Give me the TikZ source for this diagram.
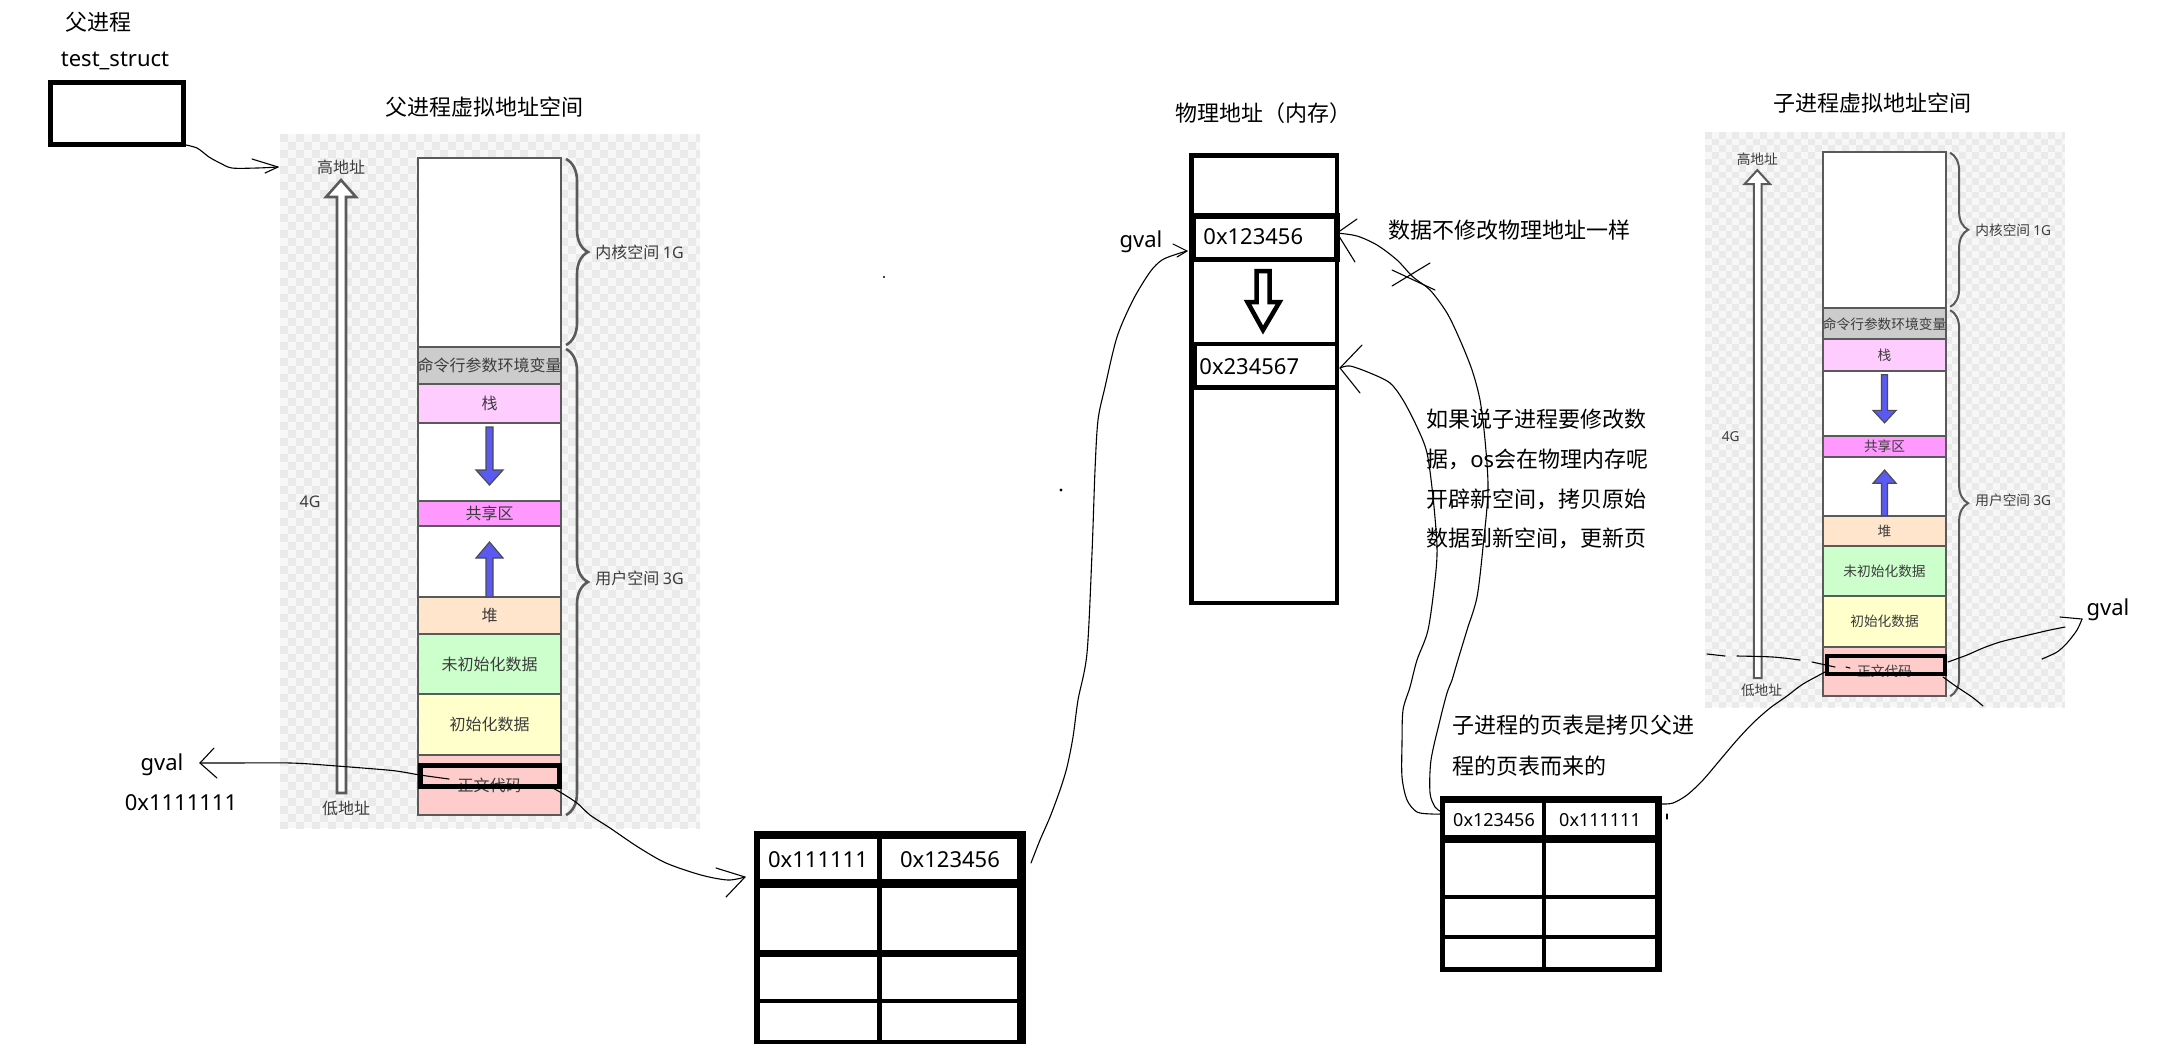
\documentclass[tikz,border=0pt]{standalone}
\usepackage{fontspec}
\setmainfont{Noto Sans CJK SC}
\newfontfamily\lat{Noto Sans}
\usetikzlibrary{decorations.pathreplacing}
\definecolor{colline}{HTML}{5A5A5A}
\definecolor{coltext}{HTML}{3C3C3C}
\definecolor{bgA}{HTML}{F7F7F7}
\definecolor{bgB}{HTML}{EAEAEA}
\definecolor{cGray}{HTML}{CCCCCC}
\definecolor{cStack}{HTML}{FFCCFF}
\definecolor{cShare}{HTML}{FF99FF}
\definecolor{cHeap}{HTML}{FFE5CC}
\definecolor{cBss}{HTML}{CCFFCC}
\definecolor{cData}{HTML}{FFFFCC}
\definecolor{cText}{HTML}{FFCCCC}
\definecolor{cBlue}{HTML}{5A5AF2}
\tikzset{
  vtxt/.style={font=\fontsize{\vfs}{\vfs}\selectfont, text=coltext, inner sep=0pt},
  seg/.style={draw=colline, line width=\vlw},
  bluearrow/.style={draw=black!70, line width=0.6pt, fill=cBlue},
  hand/.style={line width=0.55pt, line cap=round, line join=round},
  big/.style={font=\fontsize{11pt}{13pt}\selectfont, inner sep=0pt},
  latb/.style={font=\lat\fontsize{11pt}{13pt}\selectfont, inner sep=0pt},
  lats/.style={font=\lat\fontsize{9pt}{11pt}\selectfont, inner sep=0pt},
}
\newcommand\VirtSpace[1]{%
  \fill[bgA] (0,0) rectangle (420,694);
  \begin{scope}
    \clip (0,0) rectangle (420,694);
    \foreach \i in {0,16,...,416}{%
      \foreach \j in {0,16,...,688}{%
        \fill[bgB] (\i,\j) rectangle +(8,8);
        \fill[bgB] (\i+8,\j+8) rectangle +(8,8);
      }%
    }%
  \end{scope}
  \node[vtxt] (#1hi) at (61,33) {高地址};
  \draw[seg, fill=white] (57,659) -- (57,63) -- (46,63) -- (61,46) -- (76,63) -- (66,63) -- (66,659) -- cycle;
  \node[vtxt] (#1fg) at (30,368) {\lat 4G};
  \node[vtxt] (#1lo) at (66,674) {低地址};
  \draw[seg, fill=white] (138,24) rectangle (281,213);
  \draw[seg, fill=cGray] (138,213) rectangle (281,250);
  \draw[seg, fill=cStack] (138,250) rectangle (281,289);
  \draw[seg, fill=white] (138,289) rectangle (281,367);
  \draw[seg, fill=cShare] (138,367) rectangle (281,392);
  \draw[seg, fill=white] (138,392) rectangle (281,463);
  \draw[seg, fill=cHeap] (138,463) rectangle (281,500);
  \draw[seg, fill=cBss] (138,500) rectangle (281,560);
  \draw[seg, fill=cData] (138,560) rectangle (281,621);
  \draw[seg, fill=cText] (138,621) rectangle (281,681);
  \node[vtxt] (#1env) at (209.5,231.5) {命令行参数环境变量};
  \node[vtxt] (#1stk) at (209.5,269.5) {栈};
  \node[vtxt] (#1shr) at (209.5,379.5) {共享区};
  \node[vtxt] (#1hp) at (209.5,481.5) {堆};
  \node[vtxt] (#1bss) at (209.5,530) {未初始化数据};
  \node[vtxt] (#1dat) at (209.5,590.5) {初始化数据};
  \node[vtxt] (#1txt) at (209.5,651) {正文代码};
  \draw[bluearrow] (206,293) -- (213,293) -- (213,336) -- (223,336) -- (209.5,351) -- (196,336) -- (206,336) -- cycle;
  \draw[bluearrow] (206,463) -- (206,424) -- (196,424) -- (209.5,408) -- (223,424) -- (213,424) -- (213,463) -- cycle;
  \draw[colline, line width=\vlw, decorate, decoration={brace, amplitude=\bamp}] (286,25) -- (286,211);
  \draw[colline, line width=\vlw, decorate, decoration={brace, amplitude=\bamp}] (286,215) -- (286,681);
  \node[vtxt, anchor=west] (#1kl) at (315,118) {内核空间 {\lat 1G}};
  \node[vtxt, anchor=west] (#1ul) at (315,444) {用户空间 {\lat 3G}};
}
\begin{document}
\begin{tikzpicture}[x=0.5pt,y=-0.5pt]
\useasboundingbox (0,0) rectangle (2166,1062);

% ---------- titles ----------
\node[big] (tParent) at (98,22) {父进程};
\node[latb, anchor=base] (tStruct) at (115,66.5) {test\_struct};
\node[draw, line width=2.5pt, minimum width=66.5pt, minimum height=31pt, inner sep=0pt, outer sep=0pt] (tsbox) at (117,113.5) {};
\node[big] (tPV) at (484,107) {父进程虚拟地址空间};
\node[big] (tPhys) at (1263,113) {物理地址（内存）};
\node[big] (tCV) at (1872,103) {子进程虚拟地址空间};

% ---------- parent virtual space ----------
\begin{scope}[shift={(280,134)}]
  \def\vfs{8pt}\def\vlw{1.3pt}\def\bamp{11pt}
  \VirtSpace{p}
\end{scope}
\node[draw, line width=2.5pt, minimum width=69.5pt, minimum height=10.5pt, inner sep=0pt, outer sep=0pt] (pbold) at (490,776) {};

% ---------- child virtual space ----------
\begin{scope}[shift={(1705,132)}, xscale=0.857, yscale=0.8285]
  \def\vfs{6.85pt}\def\vlw{1pt}\def\bamp{9pt}
  \VirtSpace{c}
\end{scope}
\node[draw, line width=2pt, minimum width=59pt, minimum height=9pt, inner sep=0pt, outer sep=0pt] (cbold) at (1886,665) {};

% ---------- left labels ----------
\node[latb, anchor=base] (gvalP) at (162,770) {gval};
\node[latb, anchor=base] (addrP) at (181,810) {0x1111111};

% ---------- physical memory ----------
\draw[line width=2.4pt] (1191.5,155.5) rectangle (1337,603);
\draw[line width=2.7pt] (1193,216) rectangle (1337,259.5);
\draw[line width=2.3pt] (1195,344) rectangle (1337,387.5);
\draw[line width=2.25pt, fill=white] (1256.5,271) -- (1269.5,271) -- (1269.5,302) -- (1279.5,302) -- (1263,330) -- (1247.5,302) -- (1256.5,302) -- cycle;
\node[latb, anchor=base west] (m1) at (1203,244) {0x123456};
\node[latb, anchor=base west] (m2) at (1199,374) {0x234567};
\node[latb, anchor=base] (gvalM) at (1141,247) {gval};
\node[big, anchor=west] (note1) at (1388,230) {数据不修改物理地址一样};
\node[big, anchor=west] (pa1) at (1426,419) {如果说子进程要修改数};
\node[big, anchor=west] (pa2) at (1426,459) {据，{\lat os}会在物理内存呢};
\node[big, anchor=west] (pa3) at (1426,499) {开辟新空间，拷贝原始};
\node[big, anchor=west] (pa4) at (1426,538) {数据到新空间，更新页};
\node[big, anchor=west] (cn1) at (1452,725) {子进程的页表是拷贝父进};
\node[big, anchor=west] (cn2) at (1452,766) {程的页表而来的};
\node[latb, anchor=base] (gvalC) at (2108,615) {gval};

% ---------- parent page table ----------
\fill (754,831) rectangle (1026,839);
\fill (754,879) rectangle (1026,888);
\fill (754,950) rectangle (1026,957);
\fill (754,999) rectangle (1026,1003);
\fill (754,1040) rectangle (1026,1044);
\fill (754,831) rectangle (760,1044);
\fill (1017,831) rectangle (1026,1044);
\fill (877,831) rectangle (882,1044);
\node[latb, anchor=base] (pt1) at (818,867) {0x111111};
\node[latb, anchor=base] (pt2) at (950,867) {0x123456};

% ---------- child page table ----------
\fill (1440,796) rectangle (1662,803);
\fill (1440,835) rectangle (1662,843);
\fill (1440,895) rectangle (1662,899);
\fill (1440,935) rectangle (1662,938.5);
\fill (1440,967) rectangle (1662,972);
\fill (1440,796) rectangle (1445,972);
\fill (1655,796) rectangle (1662,972);
\fill (1542,796) rectangle (1546,972);
\node[lats, anchor=base] (ct1) at (1494,826) {0x123456};
\node[lats, anchor=base] (ct2) at (1600,826) {0x111111};

% ---------- named ends ----------
\coordinate (hiTip) at (278,167);
\coordinate (bStart) at (449,779);
\coordinate (gvTip) at (200,763);
\coordinate (cStart) at (547,785);
\coordinate (ptTip) at (745,877);
\coordinate (dStart) at (1031,863);
\coordinate (gmTip) at (1187,251);
\coordinate (eStart) at (1440,811);
\coordinate (m1Tip) at (1337,233);
\coordinate (fStart) at (1440,814);
\coordinate (m2Tip) at (1340,368);
\coordinate (gStart) at (1662,804);
\coordinate (gEnd) at (1827,671);
\coordinate (hStart) at (1948,662);
\coordinate (hTip) at (2082,619);

% ---------- hand drawn connectors ----------
\draw[hand] plot[smooth] coordinates {(tsbox.south east) (197,148) (209,157) (220,163) (232,168) (257,168) (hiTip)};
\draw[hand] (252,159) -- (hiTip) -- (265,173);

\draw[hand] plot[smooth] coordinates {(bStart) (420,775) (403,772) (387,770) (337,766) (291,763) (230,763) (gvTip)};
\draw[hand] (214,748) -- (gvTip) -- (217,778);

\draw[hand] plot[smooth] coordinates {(cStart) (560,792) (577,803) (590,815) (610,828) (638,847) (666,863) (701,875) (728,880) (ptTip)};
\draw[hand] (716,868) -- (ptTip) -- (726,897);

\draw[hand] plot[smooth] coordinates {(dStart) (1040,840) (1050,817) (1060,790) (1067,767) (1073,737) (1078,700) (1087,653) (1092,553) (1095,470) (1098,420) (1105,387) (1117,337) (1133,300) (1150,272) (1162,260) (1177,254) (gmTip)};
\draw[hand] (1173,244) -- (gmTip) -- (1177,257);

\draw[hand] plot[smooth] coordinates {(eStart) (1435,807) (1430,793) (1431,760) (1440,720) (1447,693) (1452,680) (1457,663) (1467,630) (1477,597) (1483,547) (1488,490) (1485,440) (1480,400) (1472,370) (1460,340) (1447,313) (1430,290) (1413,277) (1397,260) (1377,245) (1357,236) (m1Tip)};
\draw[hand] (1357,219) -- (m1Tip) -- (1355,262);
\draw[hand] (1392,286) -- (1430,263);
\draw[hand] (1392,270) -- (1435,290);

\draw[hand] plot[smooth] coordinates {(fStart) (1432,814) (1417,812) (1407,800) (1402,777) (1402,743) (1403,710) (1410,687) (1417,660) (1428,630) (1435,580) (1437,547) (1433,497) (1427,453) (1417,427) (1403,400) (1390,383) (1370,373) (1350,366) (m2Tip)};
\draw[hand] (1362,345) -- (m2Tip) -- (1360,393);

\draw[hand] plot[smooth] coordinates {(gStart) (1673,803) (1687,795) (1703,780) (1720,760) (1737,740) (1753,723) (1770,708) (1787,696) (1803,684) (gEnd)};
\draw[hand] (1667,814) -- (1667,819);

\draw[hand] plot[smooth] coordinates {(hStart) (1967,655) (1983,648) (2000,642) (2020,637) (2037,633) (2050,630) (2065,627)};
\draw[hand] (2060,617) -- (hTip);
\draw[hand] plot[smooth] coordinates {(hTip) (2077,630) (2067,643) (2057,652) (2042,659)};

\draw[hand] plot[smooth] coordinates {(1943,677) (1957,687) (1972,697) (1983,706)};
\draw[hand] (1707,654) -- (1725,656);
\draw[hand] plot[smooth] coordinates {(1737,656) (1773,657) (1800,660)};
\draw[hand] (1812,662) -- (1835,667);
\draw[hand] (1846,667) -- (1850,668);

% stray dots
\fill (1061,490) circle (1.6);
\fill (884,277) circle (1.2);
\end{tikzpicture}
\end{document}
